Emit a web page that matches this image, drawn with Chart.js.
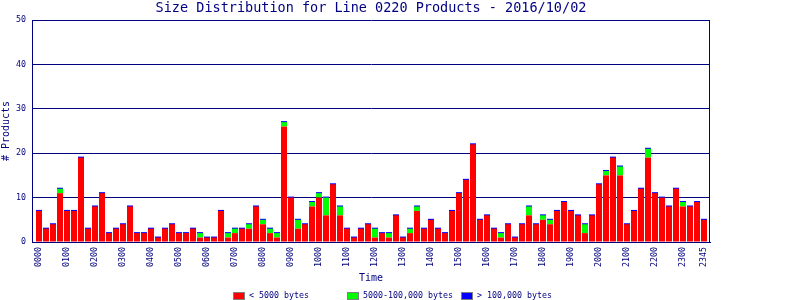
<!DOCTYPE html>
<html>
<head>
<meta charset="utf-8">
<title>Size Distribution for Line 0220 Products</title>
<script src="https://cdn.jsdelivr.net/npm/chart.js@4/dist/chart.umd.min.js"></script>
<style>
  html, body { margin: 0; padding: 0; background: #fff; }
  #chart { display: block; }
</style>
</head>
<body>
<canvas id="chart" width="800" height="300"></canvas>
<script>
// 15 minute slots over the day
const times = [
    '0000','0015','0030','0045','0100','0115','0130','0145','0200','0215','0230','0245',
    '0300','0315','0330','0345','0400','0415','0430','0445','0500','0515','0530','0545',
    '0600','0615','0630','0645','0700','0715','0730','0745','0800','0815','0830','0845',
    '0900','0915','0930','0945','1000','1015','1030','1045','1100','1115','1130','1145',
    '1200','1215','1230','1245','1300','1315','1330','1345','1400','1415','1430','1445',
    '1500','1515','1530','1545','1600','1615','1630','1645','1700','1715','1730','1745',
    '1800','1815','1830','1845','1900','1915','1930','1945','2000','2015','2030','2045',
    '2100','2115','2130','2145','2200','2215','2230','2245','2300','2315','2330','2345'
];

// labels actually printed under the axis
const shownTimes = ['0000','0100','0200','0300','0400','0500','0600','0700','0800','0900',
    '1000','1100','1200','1300','1400','1500','1600','1700','1800','1900','2000','2100',
    '2200','2300','2345'];

// < 5000 bytes
const small = [
    7, 3, 4, 11, 7, 7, 19, 3, 8, 11, 2, 3,
    4, 8, 2, 2, 3, 1, 3, 4, 2, 2, 3, 1,
    1, 1, 7, 1, 2, 3, 3, 8, 4, 2, 1, 26,
    10, 3, 4, 8, 10, 6, 13, 6, 3, 1, 3, 4,
    1, 2, 1, 6, 1, 2, 7, 3, 5, 3, 2, 7,
    11, 14, 22, 5, 6, 3, 1, 4, 1, 4, 6, 4,
    5, 4, 7, 9, 7, 6, 2, 6, 13, 15, 19, 15,
    4, 7, 12, 19, 11, 10, 8, 12, 8, 8, 9, 5
];

// 5000-100,000 bytes
const medium = [
    0, 0, 0, 1, 0, 0, 0, 0, 0, 0, 0, 0,
    0, 0, 0, 0, 0, 0, 0, 0, 0, 0, 0, 1,
    0, 0, 0, 1, 1, 0, 1, 0, 1, 1, 1, 1,
    0, 2, 0, 1, 1, 4, 0, 2, 0, 0, 0, 0,
    2, 0, 1, 0, 0, 1, 1, 0, 0, 0, 0, 0,
    0, 0, 0, 0, 0, 0, 1, 0, 0, 0, 2, 0,
    1, 1, 0, 0, 0, 0, 2, 0, 0, 1, 0, 2,
    0, 0, 0, 2, 0, 0, 0, 0, 1, 0, 0, 0
];

// > 100,000 bytes
const large = new Array(times.length).fill(0);

const seriesNames = ['< 5000 bytes', '5000-100,000 bytes', '> 100,000 bytes'];
const seriesColors = ['#ff0000', '#00ff00', '#0000ff'];
const yTicks = [0, 10, 20, 30, 40, 50];

const NAVY = '#000080';
const MONO = '"DejaVu Sans Mono", "Liberation Mono", monospace';

function points(values) {
    return values.map((v, i) => ({ x: i, y: v }));
}

// right hand side of the plot frame
const plotFrame = {
    id: 'plotFrame',
    beforeDatasetsDraw(chart) {
        const { ctx, chartArea } = chart;
        const x = Math.round(chartArea.right) - 0.5;
        ctx.save();
        ctx.strokeStyle = NAVY;
        ctx.lineWidth = 1;
        ctx.beginPath();
        ctx.moveTo(x, chartArea.top);
        ctx.lineTo(x, chartArea.bottom);
        ctx.stroke();
        ctx.restore();
    }
};

// legend in fixed width columns, like the original
const boxLegend = {
    id: 'boxLegend',
    afterDraw(chart) {
        const ctx = chart.ctx;
        const colW = 114;
        const x0 = Math.round(chart.width / 2 - colW * 1.5) + 4;
        const y = 292;
        ctx.save();
        ctx.font = '8.3px ' + MONO;
        ctx.textBaseline = 'middle';
        ctx.textAlign = 'left';
        chart.data.datasets.forEach((ds, i) => {
            const x = x0 + i * colW;
            ctx.fillStyle = ds.backgroundColor;
            ctx.fillRect(x, y, 12, 8);
            ctx.strokeStyle = '#808080';
            ctx.lineWidth = 1;
            ctx.strokeRect(x + 0.5, y + 0.5, 11, 7);
            ctx.fillStyle = NAVY;
            ctx.fillText(ds.label, x + 16, y + 4);
        });
        ctx.restore();
    }
};

const ctx = document.getElementById('chart').getContext('2d');
new Chart(ctx, {
    type: 'bar',
    data: {
        datasets: [
            { label: seriesNames[0], data: points(small), backgroundColor: seriesColors[0] },
            { label: seriesNames[1], data: points(medium), backgroundColor: seriesColors[1] },
            // zero counts still show as a thin cap on top of each stack
            { label: seriesNames[2], data: points(large), backgroundColor: seriesColors[2], minBarLength: 2 }
        ]
    },
    options: {
        responsive: false,
        animation: false,
        barPercentage: 6 / 7,
        categoryPercentage: 1,
        borderWidth: 0,
        layout: { padding: { left: 0, right: 90, top: 0, bottom: 14 } },
        plugins: {
            legend: { display: false },
            tooltip: { enabled: false },
            title: {
                display: true,
                fullSize: false,
                text: 'Size Distribution for Line 0220 Products - 2016/10/02',
                color: NAVY,
                font: { family: MONO, size: 13.5, weight: 'normal' },
                padding: { top: 0, bottom: 3.8 }
            }
        },
        scales: {
            x: {
                type: 'linear',
                stacked: true,
                offset: false,
                min: -1,
                max: times.length - 1 + 6 / 7,
                grid: { display: false, drawTicks: false, offset: false },
                border: { display: true, color: NAVY, width: 1 },
                afterBuildTicks: (scale) => {
                    scale.ticks = shownTimes.map(t => ({ value: times.indexOf(t) }));
                },
                ticks: {
                    autoSkip: false,
                    minRotation: 90,
                    maxRotation: 90,
                    padding: 5,
                    color: NAVY,
                    font: { family: MONO, size: 8.3 },
                    callback: (v) => times[v]
                },
                title: {
                    display: true,
                    text: 'Time',
                    color: NAVY,
                    font: { family: MONO, size: 10 },
                    padding: { top: 0, bottom: 2 }
                },
                afterFit: (scale) => { scale.height = 44; }
            },
            y: {
                stacked: true,
                min: yTicks[0],
                max: yTicks[yTicks.length - 1],
                grid: { color: NAVY, lineWidth: 1, drawTicks: false },
                border: { display: true, color: NAVY, width: 1 },
                afterBuildTicks: (scale) => {
                    scale.ticks = yTicks.map(v => ({ value: v }));
                },
                ticks: {
                    padding: 6,
                    color: NAVY,
                    font: { family: MONO, size: 8.3 }
                },
                title: {
                    display: true,
                    text: '# Products',
                    color: NAVY,
                    font: { family: MONO, size: 10 },
                    padding: 0
                },
                afterFit: (scale) => { scale.width = 32; }
            }
        }
    },
    plugins: [plotFrame, boxLegend]
});
</script>
</body>
</html>
